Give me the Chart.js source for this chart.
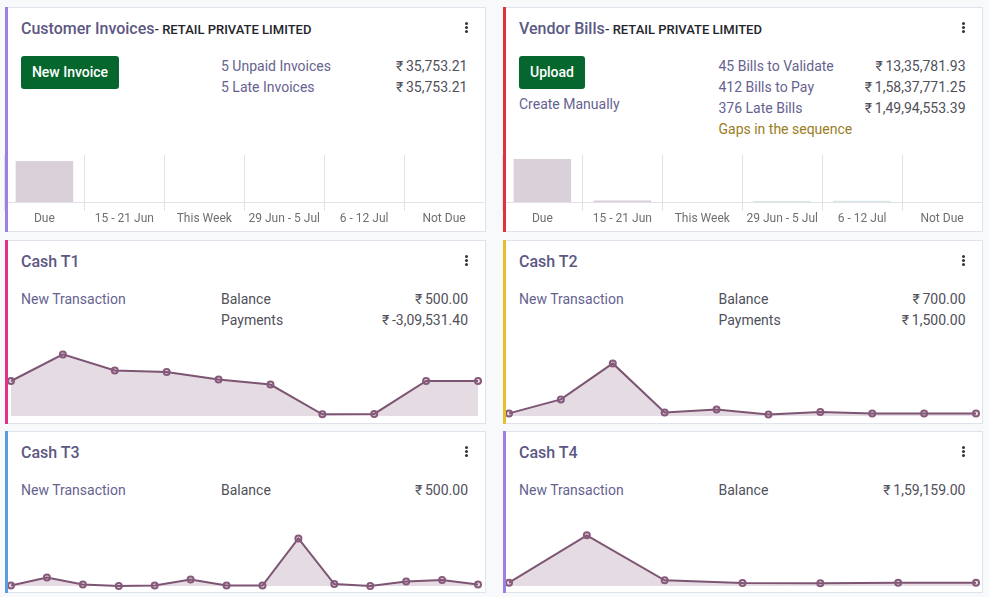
<!DOCTYPE html>
<html>
<head>
<meta charset="utf-8">
<title>Accounting dashboard</title>
<script src="https://cdn.jsdelivr.net/npm/chart.js@4/dist/chart.umd.min.js"></script>
<style>
    html, body { margin: 0; padding: 0; background: #f8f9fb; }
    body { width: 989px; height: 597px; position: relative; overflow: hidden; font-family: Roboto, sans-serif; font-size: 14px; }
    .card { position: absolute; width: 480px; background: #fff; border: 1px solid #dfe3ec; border-left: 0; box-sizing: content-box; }
    .card .stripe { position: absolute; left: 0; top: -1px; bottom: -1px; width: 3px; z-index: 2; }
    .card canvas { position: absolute; left: 0; z-index: 1; }
    .t { position: absolute; white-space: nowrap; line-height: 20px; z-index: 3; }
    .title { font-size: 16px; font-weight: 500; color: #5c5783; }
    .sub { font-size: 13px; font-weight: 500; color: #24242c; }
    .link { color: #66628f; }
    .plain { color: #50505a; }
    .num { color: #50505a; text-align: right; word-spacing: -0.7px; }
    .warn { color: #9a7d1c; }
    .btn { position: absolute; background: #05672d; color: #fff; font-weight: 500; border-radius: 3px; text-align: center; line-height: 33px; height: 33px; z-index: 3; }
    .kebab { position: absolute; width: 3px; height: 3px; background: #33333c; border-radius: 50%; box-shadow: 0 4px 0 #33333c, 0 8px 0 #33333c; z-index: 3; }
</style>
</head>
<body>
<div id="root"></div>
<script>
// bucket labels for the two bar cards
const dueLabels = ['Due', '15 - 21 Jun', 'This Week', '29 Jun - 5 Jul', '6 - 12 Jul', 'Not Due'];

const invoiceValues = [35753, 0, 0, 0, 0, 0];
const billValues = [14000000, 480000, 0, 300000, 420000, 0];

// bar colours: past buckets greyish, future ones greenish
const invoiceColors = ['#dad0d9', '#dad0d9', '#dad0d9', '#d8e8e6', '#d8e8e6', '#d8e8e6'];
const billColors = ['#dad0d9', '#dad0d9', '#dad0d9', '#d8e8e6', '#d8e8e6', '#d8e8e6'];

// cash journals
const t1Labels = ['1', '2', '3', '4', '5', '6', '7', '8', '9', '10'];
const t1Values = [500, 880, 650, 630, 520, 450, 25, 30, 500, 500];

const t2Labels = ['1', '2', '3', '4', '5', '6', '7', '8', '9', '10'];
const t2Values = [130, 830, 2630, 180, 320, 80, 200, 120, 120, 120];

const t3Labels = ['1', '2', '3', '4', '5', '6', '7', '8', '9', '10', '11', '12', '13', '14'];
const t3Values = [5, 85, 15, 0, 5, 65, 5, 5, 475, 20, 0, 45, 60, 15];

const t4Labels = ['1', '2', '3', '4', '5', '6', '7'];
const t4Values = [10000, 152000, 17000, 9000, 8000, 10000, 10000];

const LINE_COLOR = '#7d5573';
const LINE_FILL = 'rgba(135, 90, 123, 0.22)';
const GRID_COLOR = '#e2e2e6';

const root = document.getElementById('root');

function addCard(x, y, w, h, stripeColor) {
    const card = document.createElement('div');
    card.className = 'card';
    card.style.left = x + 'px';
    card.style.top = y + 'px';
    card.style.width = w + 'px';
    card.style.height = h + 'px';
    card.innerHTML = '<div class="stripe" style="background:' + stripeColor + '"></div>';
    root.appendChild(card);
    return card;
}

function addText(card, cls, text, left, top, right) {
    const el = document.createElement('div');
    el.className = 't ' + cls;
    el.textContent = text;
    if (right !== undefined) el.style.right = right + 'px';
    else el.style.left = left + 'px';
    el.style.top = top + 'px';
    card.appendChild(el);
}

function addButton(card, text, left, top, width) {
    const el = document.createElement('div');
    el.className = 'btn';
    el.textContent = text;
    el.style.left = left + 'px';
    el.style.top = top + 'px';
    el.style.width = width + 'px';
    card.appendChild(el);
}

function addKebab(card, left, top) {
    const el = document.createElement('div');
    el.className = 'kebab';
    el.style.left = left + 'px';
    el.style.top = top + 'px';
    card.appendChild(el);
}

function addCanvas(card, left, top, height) {
    const canvas = document.createElement('canvas');
    canvas.width = 480;
    canvas.height = height;
    canvas.style.left = left + 'px';
    canvas.style.top = top + 'px';
    canvas.style.width = '480px';
    canvas.style.height = height + 'px';
    card.appendChild(canvas);
    return canvas;
}

function drawBars(canvas, values, colors, yMax) {
    return new Chart(canvas, {
        type: 'bar',
        data: {
            labels: dueLabels,
            datasets: [{ data: values, backgroundColor: colors, borderWidth: 0, minBarLength: 0 }]
        },
        options: {
            responsive: false,
            animation: false,
            // small left nudge keeps the grid lines on their pixel but centres bars and labels
            layout: { padding: { left: 0.45, right: 0, top: 0, bottom: 0 }, autoPadding: false },
            plugins: { legend: { display: false }, tooltip: { enabled: false } },
            scales: {
                x: {
                    afterFit: function(scale) { scale.height = 29; },
                    grid: {
                        // closing line past the last tick would sit just inside the card edge
                        color: function(ctx) { return ctx.tick ? GRID_COLOR : 'transparent'; },
                        tickLength: 9
                    },
                    border: { color: GRID_COLOR },
                    ticks: { color: '#6f6f6f', font: { family: 'Roboto', size: 12 }, padding: 1, maxRotation: 0, autoSkip: false }
                },
                y: { display: false, min: 0, max: yMax }
            }
        }
    });
}

function drawLine(canvas, labels, values, yMax, padLeft, padRight) {
    return new Chart(canvas, {
        type: 'line',
        data: {
            labels: labels,
            datasets: [{
                data: values,
                borderColor: LINE_COLOR,
                borderWidth: 2,
                backgroundColor: LINE_FILL,
                fill: 'start',
                tension: 0,
                clip: false,
                pointRadius: 3,
                pointBorderWidth: 2,
                pointBorderColor: '#875a7b',
                pointBackgroundColor: 'rgba(135, 90, 123, 0.18)'
            }]
        },
        options: {
            responsive: false,
            animation: false,
            layout: { padding: { left: padLeft, right: padRight, top: 0, bottom: 6 }, autoPadding: false },
            plugins: { legend: { display: false }, tooltip: { enabled: false } },
            scales: {
                x: { display: false },
                y: { display: false, min: 0, max: yMax }
            }
        }
    });
}

// Customer invoices
const invCard = addCard(5, 7, 480, 223, '#9b7fe3');
addText(invCard, 'title', 'Customer Invoices', 16, 11);
addText(invCard, 'sub', '- RETAIL PRIVATE LIMITED', 149.5, 12);
addKebab(invCard, 459.5, 14);
addButton(invCard, 'New Invoice', 16, 48, 98);
addText(invCard, 'link', '5 Unpaid Invoices', 216, 48);
addText(invCard, 'num', '\u20b9 35,753.21', 0, 48, 17.5);
addText(invCard, 'link', '5 Late Invoices', 216, 69);
addText(invCard, 'num', '\u20b9 35,753.21', 0, 69, 17.5);
drawBars(addCanvas(invCard, -1, 147, 76), invoiceValues, invoiceColors, 41000);

// Vendor bills
const billCard = addCard(503, 7, 479, 223, '#e0333b');
addText(billCard, 'title', 'Vendor Bills', 16, 11);
addText(billCard, 'sub', '- RETAIL PRIVATE LIMITED', 102, 12);
addKebab(billCard, 459, 14);
addButton(billCard, 'Upload', 16, 48, 66);
addText(billCard, 'link', 'Create Manually', 16, 86);
addText(billCard, 'link', '45 Bills to Validate', 215.5, 48);
addText(billCard, 'num', '\u20b9 13,35,781.93', 0, 48, 16.5);
addText(billCard, 'link', '412 Bills to Pay', 215.5, 69);
addText(billCard, 'num', '\u20b9 1,58,37,771.25', 0, 69, 16.5);
addText(billCard, 'link', '376 Late Bills', 215.5, 90);
addText(billCard, 'num', '\u20b9 1,49,94,553.39', 0, 90, 16.5);
addText(billCard, 'warn', 'Gaps in the sequence', 215.5, 111);
drawBars(addCanvas(billCard, -1, 147, 76), billValues, billColors, 15300000);

// Cash T1
const t1Card = addCard(5, 240, 480, 181.5, '#e5308a');
addText(t1Card, 'title', 'Cash T1', 16, 11);
addKebab(t1Card, 459.5, 14);
addText(t1Card, 'link', 'New Transaction', 16, 48);
addText(t1Card, 'plain', 'Balance', 216, 48);
addText(t1Card, 'num', '\u20b9 500.00', 0, 48, 17);
addText(t1Card, 'plain', 'Payments', 216, 69);
addText(t1Card, 'num', '\u20b9 -3,09,531.40', 0, 69, 17);
drawLine(addCanvas(t1Card, 0, 99, 82), t1Labels, t1Values, 1086, 6, 7);

// Cash T2
const t2Card = addCard(503, 240, 479, 181.5, '#e8bd2e');
addText(t2Card, 'title', 'Cash T2', 16, 11);
addKebab(t2Card, 459, 14);
addText(t2Card, 'link', 'New Transaction', 16, 48);
addText(t2Card, 'plain', 'Balance', 215.5, 48);
addText(t2Card, 'num', '\u20b9 700.00', 0, 48, 16.5);
addText(t2Card, 'plain', 'Payments', 215.5, 69);
addText(t2Card, 'num', '\u20b9 1,500.00', 0, 69, 16.5);
drawLine(addCanvas(t2Card, 0, 99, 82), t2Labels, t2Values, 3800, 6, 7);

// Cash T3
const t3Card = addCard(5, 431, 480, 160, '#5b9bdf');
addText(t3Card, 'title', 'Cash T3', 16, 11);
addKebab(t3Card, 459.5, 14);
addText(t3Card, 'link', 'New Transaction', 16, 48);
addText(t3Card, 'plain', 'Balance', 216, 48);
addText(t3Card, 'num', '\u20b9 500.00', 0, 48, 17);
drawLine(addCanvas(t3Card, 0, 78, 82), t3Labels, t3Values, 760, 6, 7);

// Cash T4
const t4Card = addCard(503, 431, 479, 160, '#9b7fe3');
addText(t4Card, 'title', 'Cash T4', 16, 11);
addKebab(t4Card, 459, 14);
addText(t4Card, 'link', 'New Transaction', 16, 48);
addText(t4Card, 'plain', 'Balance', 215.5, 48);
addText(t4Card, 'num', '\u20b9 1,59,159.00', 0, 48, 16.5);
drawLine(addCanvas(t4Card, 0, 78, 82), t4Labels, t4Values, 228000, 6, 7);
</script>
</body>
</html>
